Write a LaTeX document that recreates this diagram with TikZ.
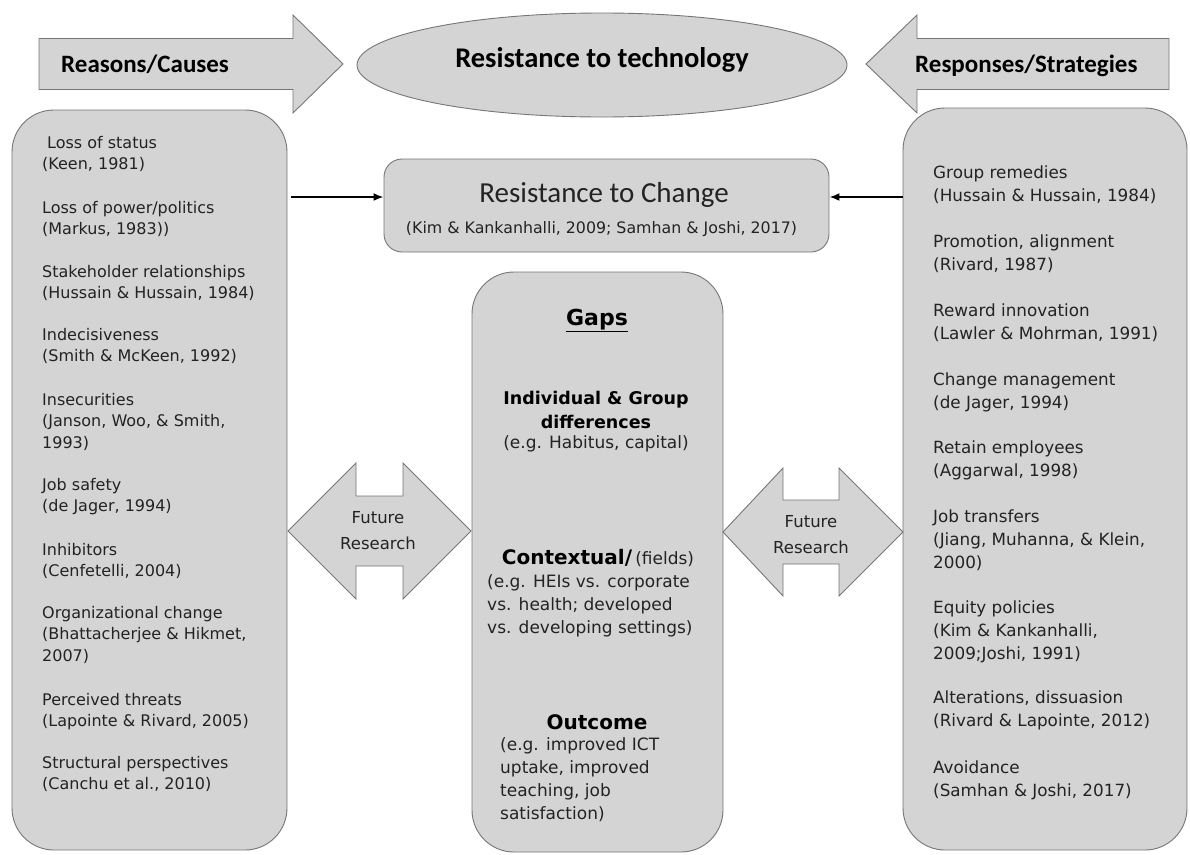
\documentclass[tikz,border=0pt]{standalone}
\usepackage{fontspec}
\setmainfont{DejaVu Sans}
\newfontfamily\calib{Carlito}
\usetikzlibrary{shapes.geometric,arrows.meta}

\definecolor{boxgray}{RGB}{212,212,212}
\definecolor{edgegray}{RGB}{118,118,118}
\definecolor{txt}{RGB}{35,35,35}

\newcommand\causefont{\fontsize{16}{21.7}\selectfont}
\newcommand\respfont{\fontsize{16.8}{23}\selectfont}
\newcommand\gapfont{\fontsize{17}{23.3}\selectfont}
\newcommand\gapboldfont{\bfseries\fontsize{17.5}{24}\selectfont}
\newcommand\gaphead{\bfseries\fontsize{20}{24}\selectfont}

\begin{document}
\begin{tikzpicture}[x=1pt,y=-1pt,
  panel/.style={draw=edgegray, fill=boxgray, line width=0.9pt, inner sep=0pt},
  bigbox/.style={panel, rounded corners=42pt},
  block/.style={draw=edgegray, fill=boxgray, line width=0.9pt, line join=miter},
  cause/.style={anchor=base west, align=left, inner sep=0pt, text=txt, font=\causefont},
  resp/.style={cause, font=\respfont},
  gaptext/.style={inner sep=0pt, text=txt, font=\gapfont},
  headline/.style={inner sep=0pt, text=black, font=\calib\bfseries\fontsize{25}{30}\selectfont},
  frtext/.style={inner sep=0pt, align=center, text=txt, font=\fontsize{16.5}{26}\selectfont},
  link/.style={line width=1.8pt, -{Latex[length=10pt,width=8pt]}}
]
\useasboundingbox (0,0) rectangle (1190,854);

% ---- top row: two block arrows and the central ellipse ----
\draw[block] (39,38.5) -- (293,38.5) -- (293,15) -- (343,64) -- (293,113)
  -- (293,89.5) -- (39,89.5) -- cycle;
\draw[block] (1169,38.5) -- (917,38.5) -- (917,15) -- (866,64) -- (917,113)
  -- (917,89.5) -- (1169,89.5) -- cycle;
\node[headline, anchor=base west] (reasons) at (61,72) {Reasons/Causes};
\node[headline, anchor=base west] (responses) at (915,72) {Responses/Strategies};

\node[panel, ellipse, minimum width=490pt, minimum height=104pt] (tech) at (602,65) {};
\node[inner sep=0pt, anchor=base, font=\calib\bfseries\fontsize{28.5}{32}\selectfont]
  (techtext) at (602,67) {Resistance to technology};

% ---- side panels ----
\node[bigbox, minimum width=275pt, minimum height=740pt] (causes) at (149.5,480) {};
\node[bigbox, minimum width=284pt, minimum height=742pt] (strategies) at (1045,479) {};

% ---- resistance to change ----
\node[panel, rounded corners=18pt, minimum width=445pt, minimum height=93pt] (rtc) at (606.5,205.5) {};
\node[inner sep=0pt, anchor=base, text=txt, font=\calib\fontsize{29}{32}\selectfont]
  (rtcmain) at (604,202) {Resistance to Change};
\node[inner sep=0pt, anchor=base, text=txt, font=\fontsize{15.8}{18}\selectfont]
  (rtccite) at (601.5,233) {(Kim \& Kankanhalli, 2009; Samhan \& Joshi, 2017)};

\coordinate (lk) at (0,197);
\draw[link, shorten <=4pt] (causes.east |- lk) -- (rtc.west |- lk);
\draw[link] (strategies.west |- lk) -- (rtc.east |- lk);

% ---- gaps panel (multi-line nodes sit on the baseline of their last line) ----
\node[bigbox, minimum width=251pt, minimum height=580pt] (gaps) at (597.5,562) {};
\node[inner sep=0pt, anchor=base, text=black, font=\bfseries\fontsize{22}{26}\selectfont]
  (gapstitle) at (597,325) {\underline{Gaps}};
\node[inner sep=0pt, anchor=base, align=center, text=black, font=\gapboldfont]
  (indiv) at (596,428) {Individual \& Group\\differences};
\node[gaptext, anchor=base] (habitus) at (596,448) {(e.g. Habitus, capital)};
\node[inner sep=0pt, anchor=base, text=black] (ctxhead) at (598,564)
  {{\gaphead Contextual/} {\gapfont\color{txt}(fields)}};
\node[gaptext, anchor=base west, align=left] (ctxnote) at (487,633.6)
  {(e.g. HEIs vs. corporate\\vs. health; developed\\vs. developing settings)};
\node[inner sep=0pt, anchor=base, text=black, font=\gaphead] (outhead) at (597,729) {Outcome};
\node[gaptext, anchor=base west, align=left] (outnote) at (500,819.9)
  {(e.g. improved ICT\\uptake, improved\\teaching, job\\satisfaction)};

% ---- future research double arrows ----
\draw[block] (288,531) -- (356,463) -- (356,496) -- (403,496) -- (403,463) -- (471,531)
  -- (403,599) -- (403,566) -- (356,566) -- (356,599) -- cycle;
\draw[block] (723,532) -- (783,468) -- (783,500) -- (839,500) -- (839,468) -- (903,532)
  -- (839,596) -- (839,564) -- (783,564) -- (783,596) -- cycle;
\node[frtext] (frleft) at (378,531) {Future\\Research};
\node[frtext] (frright) at (811,535) {Future\\Research};

% ---- reasons / causes ----
\node[cause] (c1) at (42,169.7) {\hspace*{5pt}Loss of status\\(Keen, 1981)};
\node[cause] (c2) at (42,234.7) {Loss of power/politics\\(Markus, 1983))};
\node[cause] (c3) at (42,298.7) {Stakeholder relationships\\(Hussain \& Hussain, 1984)};
\node[cause] (c4) at (42,361.7) {Indecisiveness\\(Smith \& McKeen, 1992)};
\node[cause] (c5) at (42,448.4) {Insecurities\\(Janson, Woo, \& Smith,\\1993)};
\node[cause] (c6) at (42,511.7) {Job safety\\(de Jager, 1994)};
\node[cause] (c7) at (42,576.7) {Inhibitors\\(Cenfetelli, 2004)};
\node[cause] (c8) at (42,661.4) {Organizational change\\(Bhattacherjee \& Hikmet,\\2007)};
\node[cause] (c9) at (42,726.7) {Perceived threats\\(Lapointe \& Rivard, 2005)};
\node[cause] (c10) at (42,789.7) {Structural perspectives\\(Canchu et al., 2010)};

% ---- responses / strategies ----
\node[resp] (r1) at (933,201) {Group remedies\\(Hussain \& Hussain, 1984)};
\node[resp] (r2) at (933,270) {Promotion, alignment\\(Rivard, 1987)};
\node[resp] (r3) at (933,339) {Reward innovation\\(Lawler \& Mohrman, 1991)};
\node[resp] (r4) at (933,408) {Change management\\(de Jager, 1994)};
\node[resp] (r5) at (933,476) {Retain employees\\(Aggarwal, 1998)};
\node[resp] (r6) at (933,568) {Job transfers\\(Jiang, Muhanna, \& Klein,\\2000)};
\node[resp] (r7) at (933,659) {Equity policies\\(Kim \& Kankanhalli,\\2009;Joshi, 1991)};
\node[resp] (r8) at (933,726) {Alterations, dissuasion\\(Rivard \& Lapointe, 2012)};
\node[resp] (r9) at (933,796) {Avoidance\\(Samhan \& Joshi, 2017)};
\end{tikzpicture}
\end{document}
